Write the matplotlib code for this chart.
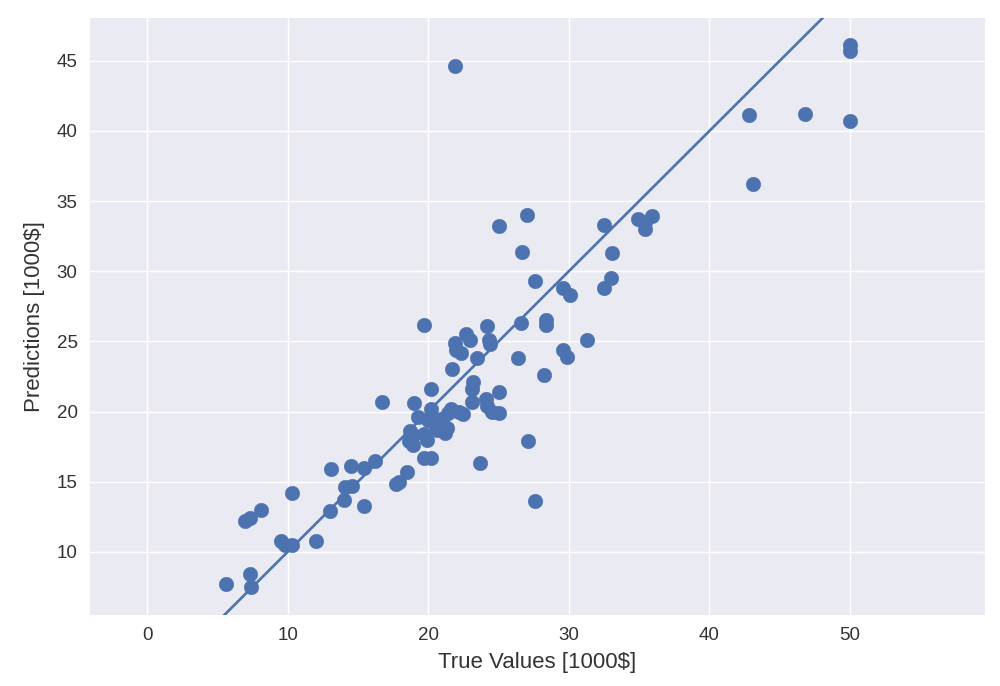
import matplotlib
matplotlib.use("Agg")
import matplotlib.pyplot as plt
import numpy as np

# test labels vs predictions (thousands of dollars)
true_vals = [
    5.6, 7.3, 7.4, 7.0, 7.3, 8.1, 9.5, 9.8, 10.3, 10.3,
    12.0, 13.0, 13.1, 14.0, 14.1, 14.6, 14.5, 15.4, 15.4, 16.2,
    16.7, 17.7, 17.9, 18.5, 18.7, 18.7, 18.9, 19.0, 19.7, 19.7,
    19.9, 19.7, 20.2, 20.2, 20.2, 20.0, 20.5, 20.9, 21.2, 21.4,
    21.6, 21.7, 21.9, 22.0, 22.3, 21.9, 22.2, 22.5, 22.7, 23.0,
    23.1, 23.2, 23.1, 23.5, 23.7, 24.2, 24.3, 24.4, 24.1, 24.5,
    25.0, 25.0, 25.0, 26.4, 26.6, 26.7, 27.0, 27.1, 27.6, 27.6,
    28.2, 28.4, 28.4, 29.6, 29.6, 29.9, 30.1, 31.3, 32.5, 32.5,
    33.0, 33.1, 34.9, 35.4, 35.4, 35.9, 42.8, 43.1, 46.8, 50.0,
    50.0, 50.0, 18.6, 19.3, 21.0, 20.6, 21.3, 20.9, 24.2, 18.9,
]
predictions = [
    7.7, 8.4, 7.5, 12.2, 12.4, 13.0, 10.8, 10.5, 10.5, 14.2,
    10.8, 12.9, 15.9, 13.7, 14.6, 14.7, 16.1, 13.3, 16.0, 16.5,
    20.7, 14.8, 15.0, 15.7, 18.6, 18.0, 17.6, 20.6, 26.2, 18.4,
    18.0, 16.7, 16.7, 20.2, 21.6, 19.4, 19.1, 18.9, 18.5, 19.9,
    20.2, 23.0, 24.9, 24.4, 24.2, 44.6, 20.0, 19.8, 25.5, 25.1,
    21.6, 22.1, 20.7, 23.8, 16.3, 26.1, 25.1, 24.8, 20.9, 20.0,
    19.9, 21.4, 33.2, 23.8, 26.3, 31.4, 34.0, 17.9, 29.3, 13.6,
    22.6, 26.5, 26.2, 28.8, 24.4, 23.9, 28.3, 25.1, 33.3, 28.8,
    29.5, 31.3, 33.7, 33.5, 33.0, 33.9, 41.1, 36.2, 41.2, 46.1,
    45.7, 40.7, 17.9, 19.6, 19.2, 18.7, 18.8, 19.5, 20.4, 18.3,
]

plt.style.use("seaborn-v0_8")
plt.rcParams["font.family"] = ["Liberation Sans", "DejaVu Sans"]

fig, ax = plt.subplots(figsize=(10, 6.86), dpi=100)
fig.subplots_adjust(left=0.09, right=0.985, bottom=0.104, top=0.974)

ax.scatter(true_vals, predictions, s=110, color="#4C72B0", zorder=3)
ax.set_xlim(-4.06, 59.6)
ax.set_ylim(5.52, 48.06)
# identity line y = x
ax.plot([-100, 100], [-100, 100], color="#4C72B0", lw=1.9, zorder=2)

ax.set_xticks([0, 10, 20, 30, 40, 50])
ax.set_yticks([10, 15, 20, 25, 30, 35, 40, 45])
ax.tick_params(labelsize=13.5, labelcolor="#333333", pad=9)
ax.set_xlabel("True Values [1000$]", fontsize=16, color="#333333", labelpad=6)
ax.set_ylabel("Predictions [1000$]", fontsize=16, color="#333333", labelpad=8)

fig.savefig("out.png", dpi=100)
